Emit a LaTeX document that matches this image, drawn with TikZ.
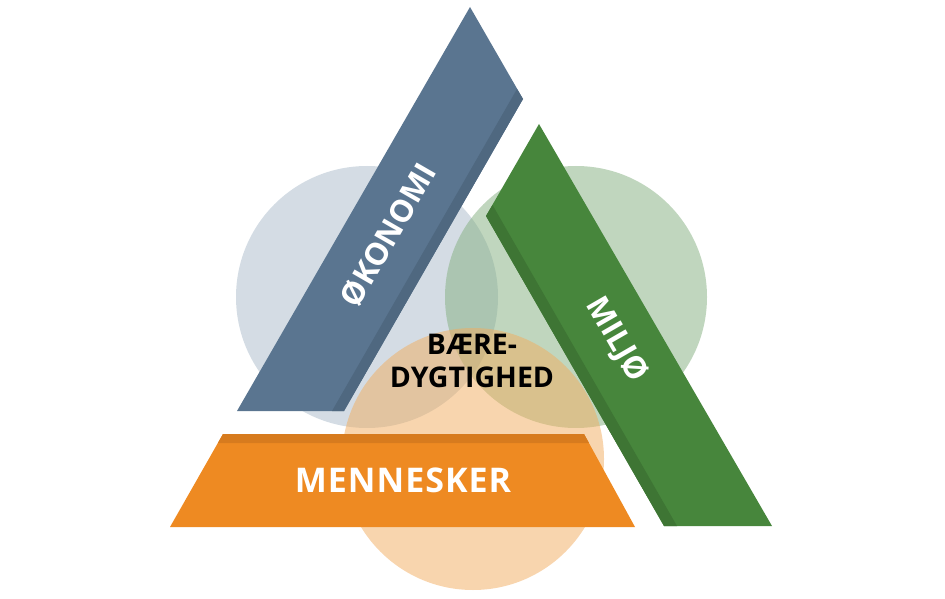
\documentclass[tikz,border=0pt]{standalone}
\usepackage{fontspec}
\setmainfont{Open Sans}
\definecolor{blueBar}{HTML}{5A7590}
\definecolor{blueDark}{HTML}{4F6880}
\definecolor{blueCirc}{HTML}{A9BAC9}
\definecolor{greenBar}{HTML}{47863C}
\definecolor{greenDark}{HTML}{3E7534}
\definecolor{greenCirc}{HTML}{82AE7E}
\definecolor{orangeBar}{HTML}{EE8A22}
\definecolor{orangeDark}{HTML}{D77B1E}
\definecolor{orangeCirc}{HTML}{F2AC5E}
\begin{document}
\begin{tikzpicture}[x=1pt,y=1pt,
  circ/.style={fill opacity=0.5},
  lbl/.style={text=white,inner sep=0pt,font=\bfseries\fontsize{31}{33}\selectfont},
  centerlbl/.style={text=black,inner sep=0pt,font=\bfseries\fontsize{28.5}{33}\selectfont,align=center}]
\useasboundingbox (0,0) rectangle (945,598);
% circles
\fill[blueCirc,circ] (367,301) circle (131);
\fill[greenCirc,circ] (576,301) circle (131);
\fill[orangeCirc,circ] (473,139) circle (131);
% blue bar
\fill[blueBar] (470,591) -- (523,499) -- (344,187) -- (237,187) -- cycle;
\fill[blueDark] (517,509) -- (523,499) -- (344,187) -- (332,187) -- cycle;
% green bar
\fill[greenBar] (539,474) -- (486,382) -- (664,72) -- (772,72) -- cycle;
\fill[greenDark] (486,382) -- (492.5,393) -- (677,72) -- (664,72) -- cycle;
% orange bar
\fill[orangeBar] (170,71) -- (635,71) -- (584,164) -- (223,164) -- cycle;
\fill[orangeDark] (217.9,155) -- (589,155) -- (584,164) -- (223,164) -- cycle;
% labels
\node[lbl,rotate=60] (oko) at (388,363) {ØKONOMI};
\node[lbl,rotate=-60] (mil) at (616,258) {MILJØ};
\node[lbl,font=\bfseries\fontsize{34}{36}\selectfont] (men) at (403,118) {M\kern1pt E\kern1pt N\kern1pt N\kern1pt E\kern1pt S\kern1pt K\kern1pt E\kern1pt R};
\node[centerlbl] (bd) at (472,237) {BÆRE-\\DYGTIGHED};
\end{tikzpicture}
\end{document}
